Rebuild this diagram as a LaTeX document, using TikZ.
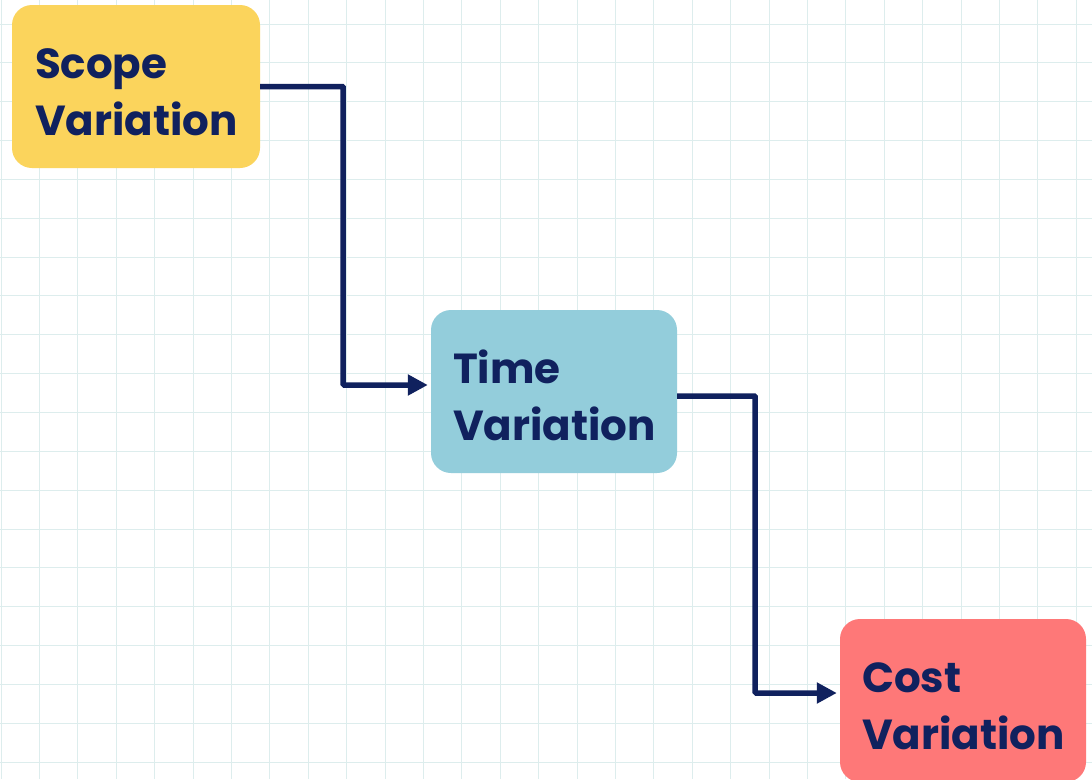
\documentclass[tikz,border=0pt]{standalone}
\usepackage{fontspec}
\setmainfont{Poppins}[UprightFont=* Bold]
\usepackage{xcolor}
\usepackage{tikz}
\usetikzlibrary{arrows.meta,positioning,calc}

\definecolor{navy}{HTML}{10215E}
\definecolor{gridc}{HTML}{DDEDED}
\definecolor{scopeY}{HTML}{FBD45C}
\definecolor{timeB}{HTML}{93CDDB}
\definecolor{costR}{HTML}{FE7878}

\begin{document}
\begin{tikzpicture}[x=1pt,y=-1pt,>=Triangle,
    varbox/.style={rounded corners=20pt,minimum width=248pt,minimum height=163pt,
      text width=202pt,align=left,text=navy,inner sep=0pt,
      font=\fontsize{42}{57}\selectfont},
    flow/.style={navy,line width=5.5pt,-{Triangle[length=20pt,width=20pt]},shorten >=3pt}]
  \useasboundingbox (0,0) rectangle (1092,779);
  \fill[white] (0,0) rectangle (1092,779);
  % graph paper
  \foreach \i in {0,...,28} \draw[gridc,line width=1pt] (1+38.4*\i,0)--(1+38.4*\i,779);
  \foreach \j in {0,...,19} \draw[gridc,line width=1pt] (0,24+38.85*\j)--(1092,24+38.85*\j);
  \node[varbox,fill=scopeY] (scope) at (136,86.5) {\rule{0pt}{41pt}Scope\\Variation};
  \node[varbox,fill=timeB,minimum width=246pt] (time) at (554,391.5) {\rule{0pt}{41pt}Time\\Variation};
  \node[varbox,fill=costR,minimum width=246pt] (cost) at (963,700.5) {\rule{0pt}{41pt}Cost\\Variation};
  \draw[flow,rounded corners=1pt] (scope.east) -- ++(83,0) |- ([yshift=6.5pt]time.west);
  \draw[flow,rounded corners=1pt] ([yshift=-4.5pt]time.east) -- ++(78,0) |- ([yshift=7.5pt]cost.west);
\end{tikzpicture}
\end{document}
